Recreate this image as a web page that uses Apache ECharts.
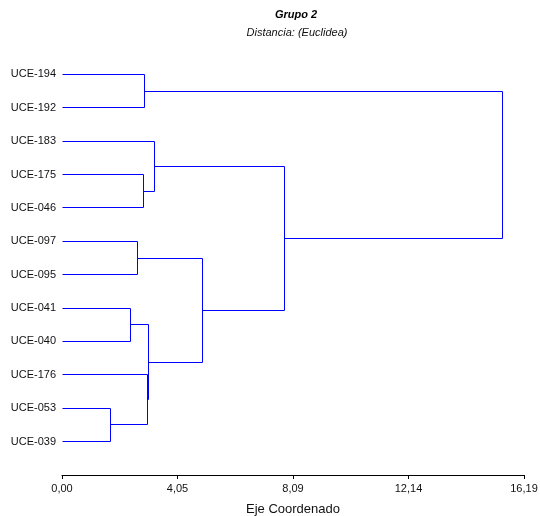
<!DOCTYPE html>
<html>
<head>
<meta charset="utf-8">
<script src="https://cdn.jsdelivr.net/npm/echarts@6/dist/echarts.min.js"></script>
<style>
  html, body { margin: 0; padding: 0; background: #fff; }
  #chart { width: 540px; height: 516px; }
</style>
</head>
<body>
<div id="chart"></div>
<script>
// Leaves of the dendrogram, top to bottom
const leafNames = ['UCE-194', 'UCE-192', 'UCE-183', 'UCE-175', 'UCE-046', 'UCE-097',
                   'UCE-095', 'UCE-041', 'UCE-040', 'UCE-176', 'UCE-053', 'UCE-039'];

// Agglomeration steps: the two clusters joined (a leaf index, or 'c' + step number
// for a cluster formed earlier) and the Euclidean distance of the join
const joinLeft  = [10, 7, 5, 3, 0, 9,    'c1', 2,    'c2', 'c7', 'c4'];
const joinRight = [11, 8, 6, 4, 1, 'c0', 'c5', 'c3', 'c6', 'c8', 'c9'];
const joinDist  = [1.71, 2.40, 2.63, 2.85, 2.90, 2.98, 3.02, 3.24, 4.92, 7.78, 15.42];

// Distance axis
const xMax = 16.19;
const xTickLabels = ['0,00', '4,05', '8,09', '12,14', '16,19'];

const FONT = '"Liberation Sans", Arial, sans-serif';

// Position of a leaf or cluster: x = join distance, y = mean of its children
const clusters = [];
function nodePos(ref) {
  if (typeof ref === 'number') return { x: 0, y: ref };
  return clusters[Number(ref.slice(1))];
}
const links = [];
joinDist.forEach((d, i) => {
  const a = nodePos(joinLeft[i]);
  const b = nodePos(joinRight[i]);
  clusters.push({ x: d, y: (a.y + b.y) / 2 });
  // [child A x, child A y, join distance, child B y, child B x]
  links.push([a.x, a.y, d, b.y, b.x]);
});

const chart = echarts.init(document.getElementById('chart'), null, { renderer: 'canvas' });

const snap = v => Math.round(v - 0.5) + 0.5;

chart.setOption({
  animation: false,
  backgroundColor: '#ffffff',
  title: [
    {
      text: 'Grupo 2',
      left: 291, top: 4, textAlign: 'center',
      textStyle: { fontFamily: FONT, fontSize: 11, fontWeight: 'bold', fontStyle: 'italic', color: '#000' }
    },
    {
      text: 'Distancia: (Euclidea)',
      left: 292, top: 22, textAlign: 'center',
      textStyle: { fontFamily: FONT, fontSize: 11, fontWeight: 'normal', fontStyle: 'italic', color: '#111' }
    }
  ],
  grid: { left: 62, right: 16, top: 41, bottom: 41, containLabel: false, outerBoundsMode: 'none' },
  xAxis: {
    type: 'value',
    position: 'bottom',
    min: 0,
    max: xMax,
    interval: xMax / 4,
    name: 'Eje Coordenado',
    nameLocation: 'middle',
    nameGap: 28,
    nameTextStyle: { fontFamily: FONT, fontSize: 13, color: '#111' },
    axisLine: { show: true, onZero: false, lineStyle: { color: '#000', width: 1 } },
    axisTick: { show: true, length: 4, lineStyle: { color: '#000' } },
    splitLine: { show: false },
    axisLabel: {
      fontFamily: FONT, fontSize: 11, color: '#111', margin: 8,
      showMinLabel: true, showMaxLabel: true,
      formatter: v => xTickLabels[Math.round(v / (xMax / 4))] ?? ''
    }
  },
  yAxis: {
    type: 'value',
    inverse: true,
    min: -1,
    max: 12,
    interval: 1,
    axisLine: { show: false },
    axisTick: { show: false },
    splitLine: { show: false },
    axisLabel: {
      fontFamily: FONT, fontSize: 11, color: '#111', margin: 6,
      formatter: v => leafNames[v] ?? ''
    }
  },
  series: [{
    type: 'custom',
    coordinateSystem: 'cartesian2d',
    encode: { x: [0, 2, 4], y: [1, 3] },
    data: links,
    renderItem(params, api) {
      const pA  = api.coord([api.value(0), api.value(1)]);
      const pA2 = api.coord([api.value(2), api.value(1)]);
      const pB2 = api.coord([api.value(2), api.value(3)]);
      const pB  = api.coord([api.value(4), api.value(3)]);
      const pts = [pA, pA2, pB2, pB].map(p => [snap(p[0]), snap(p[1])]);
      return {
        type: 'polyline',
        shape: { points: pts },
        style: { stroke: '#0000ff', lineWidth: 1, fill: null }
      };
    }
  }]
});
</script>
</body>
</html>
